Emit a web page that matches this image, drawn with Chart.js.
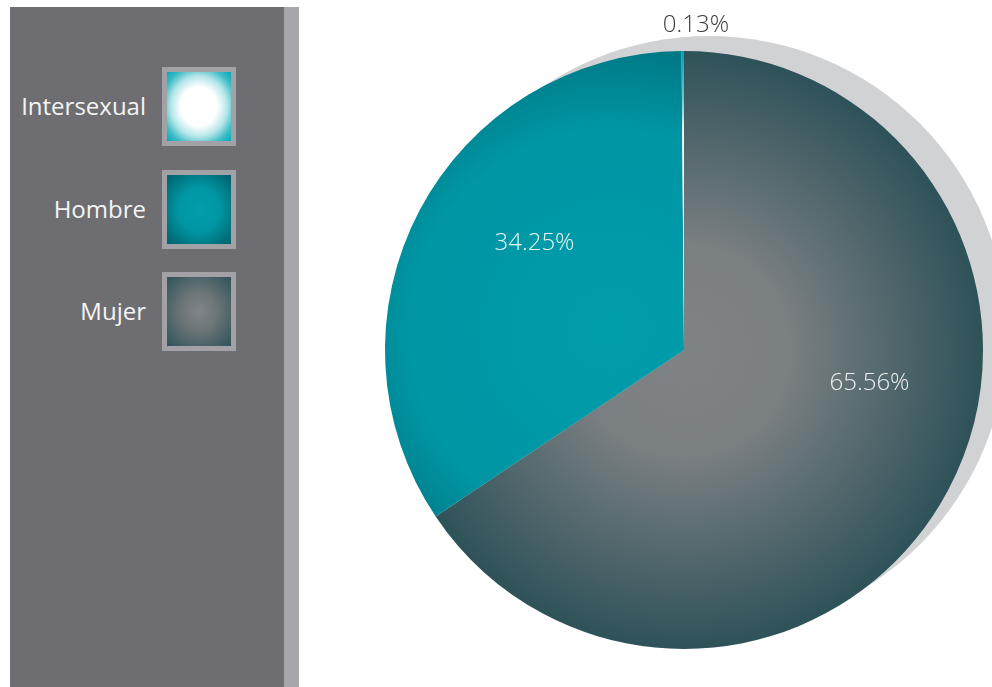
<!DOCTYPE html>
<html lang="es">
<head>
    <meta charset="UTF-8">
    <title>Distribución por sexo</title>
    <script src="https://cdn.jsdelivr.net/npm/chart.js"></script>
    <style>
        html, body { margin: 0; padding: 0; background: #ffffff; }
        #wrap { position: relative; width: 992px; height: 687px; overflow: hidden; }
        #panel { position: absolute; left: 10px; top: 7px; width: 274px; height: 680px; background: #6e6e72; }
        #strip { position: absolute; left: 284px; top: 7px; width: 15px; height: 680px; background: #a7a7ab; }
        #legend { position: absolute; left: 0; top: 67px; width: 240px; }
        .item { position: relative; height: 79px; margin-bottom: 23.5px; }
        .item span {
            position: absolute; right: 94px; top: 22px;
            font-family: "Open Sans", sans-serif; font-size: 24px; color: #f4f4f4;
        }
        .item i {
            position: absolute; left: 162px; top: 0; width: 64px; height: 69px;
            border: 5px solid #a2a2a6;
        }
        #chart { position: absolute; left: 0; top: 0; }
    </style>
</head>
<body>
<div id="wrap">
    <div id="panel"></div>
    <div id="strip"></div>
    <div id="legend"></div>
    <canvas id="chart" width="992" height="687"></canvas>
</div>

<script>
    // Data
    const categories = ["Mujer", "Hombre", "Intersexual"];
    const percentages = [65.56, 34.25, 0.13];

    // centre / edge colours of each slice gradient
    const innerColors = ["#7f8386", "#009dab", "#ffffff"];
    const outerColors = ["#2e5259", "#006673", "#00a3b0"];
    const boxStops = [
        "#808588 0%, #6c7578 40%, #2e5259 100%",
        "#009eab 0%, #0096a3 45%, #005f6a 100%",
        "#ffffff 0%, #ffffff 40%, #b5e6e9 62%, #3dbcc6 82%, #00a9b5 100%"
    ];

    // Legend (reverse order, like the original)
    const legendDiv = document.getElementById("legend");
    categories.slice().reverse().forEach((name) => {
        const i = categories.indexOf(name);
        const item = document.createElement("div");
        item.className = "item";
        const label = document.createElement("span");
        label.textContent = name;
        const box = document.createElement("i");
        box.style.background = "radial-gradient(ellipse at center, " + boxStops[i] + ")";
        item.appendChild(label);
        item.appendChild(box);
        legendDiv.appendChild(item);
    });

    const sliceFill = (ctx) => {
        const chart = ctx.chart;
        const area = chart.chartArea;
        if (!area) return innerColors[ctx.dataIndex];
        const cx = (area.left + area.right) / 2;
        const cy = (area.top + area.bottom) / 2;
        const r = Math.min(area.width, area.height) / 2;
        const i = ctx.dataIndex;
        let g;
        if (i === 2) {
            g = chart.ctx.createRadialGradient(cx, cy, 0, cx, cy, r);
            g.addColorStop(0, "#ffffff");
            g.addColorStop(0.72, "#ffffff");
            g.addColorStop(0.84, "#6ccad2");
            g.addColorStop(1, outerColors[i]);
        } else if (i === 1) {
            const gx = cx - 74, gy = cy - 20;
            g = chart.ctx.createRadialGradient(gx, gy, 0, gx, gy, r * 1.12);
            g.addColorStop(0, innerColors[i]);
            g.addColorStop(0.6, "#0096a4");
            g.addColorStop(1, outerColors[i]);
        } else {
            g = chart.ctx.createRadialGradient(cx, cy, 0, cx, cy, r);
            g.addColorStop(0, innerColors[i]);
            g.addColorStop(0.35, "#7a7f82");
            g.addColorStop(1, outerColors[i]);
        }
        return g;
    };

    // grey disc behind the pie
    const shadowPlugin = {
        id: "shadowDisc",
        beforeDatasetsDraw(chart, args, opts) {
            const arc = chart.getDatasetMeta(0).data[0];
            if (!arc) return;
            const c = chart.ctx;
            c.save();
            c.fillStyle = opts.color;
            c.beginPath();
            c.arc(arc.x + opts.dx, arc.y + opts.dy, arc.outerRadius + opts.grow, 0, Math.PI * 2);
            c.fill();
            c.restore();
        }
    };

    // percentage labels
    const labelPlugin = {
        id: "pctLabels",
        afterDatasetsDraw(chart, args, opts) {
            const meta = chart.getDatasetMeta(0);
            const c = chart.ctx;
            c.save();
            c.font = "300 24px 'Open Sans', sans-serif";
            c.textAlign = "center";
            c.textBaseline = "middle";
            meta.data.forEach((arc, i) => {
                const p = opts.place[i];
                const a = p.angle * Math.PI / 180;
                const x = arc.x + Math.cos(a) * arc.outerRadius * p.r;
                const y = arc.y + Math.sin(a) * arc.outerRadius * p.r;
                c.fillStyle = p.color;
                c.fillText(percentages[i].toFixed(2) + "%", x, y);
            });
            c.restore();
        }
    };

    new Chart(document.getElementById("chart").getContext("2d"), {
        type: "pie",
        data: {
            labels: categories,
            datasets: [{
                data: percentages,
                backgroundColor: sliceFill,
                borderWidth: 0,
                hoverOffset: 0,
                offset: 0
            }]
        },
        options: {
            responsive: false,
            animation: false,
            events: [],
            layout: { padding: { left: 385, right: 9, top: 51, bottom: 38 } },
            plugins: {
                legend: { display: false },
                tooltip: { enabled: false },
                shadowDisc: { color: "#d1d2d4", dx: 25, dy: -16, grow: -1 },
                pctLabels: {
                    place: [
                        { angle: 10, r: 0.63, color: "#eef0f0" },
                        { angle: -144.5, r: 0.614, color: "#e8f6f7" },
                        { angle: -87.9, r: 1.087, color: "#3a3a3c" }
                    ]
                }
            }
        },
        plugins: [shadowPlugin, labelPlugin]
    });
</script>
</body>
</html>
